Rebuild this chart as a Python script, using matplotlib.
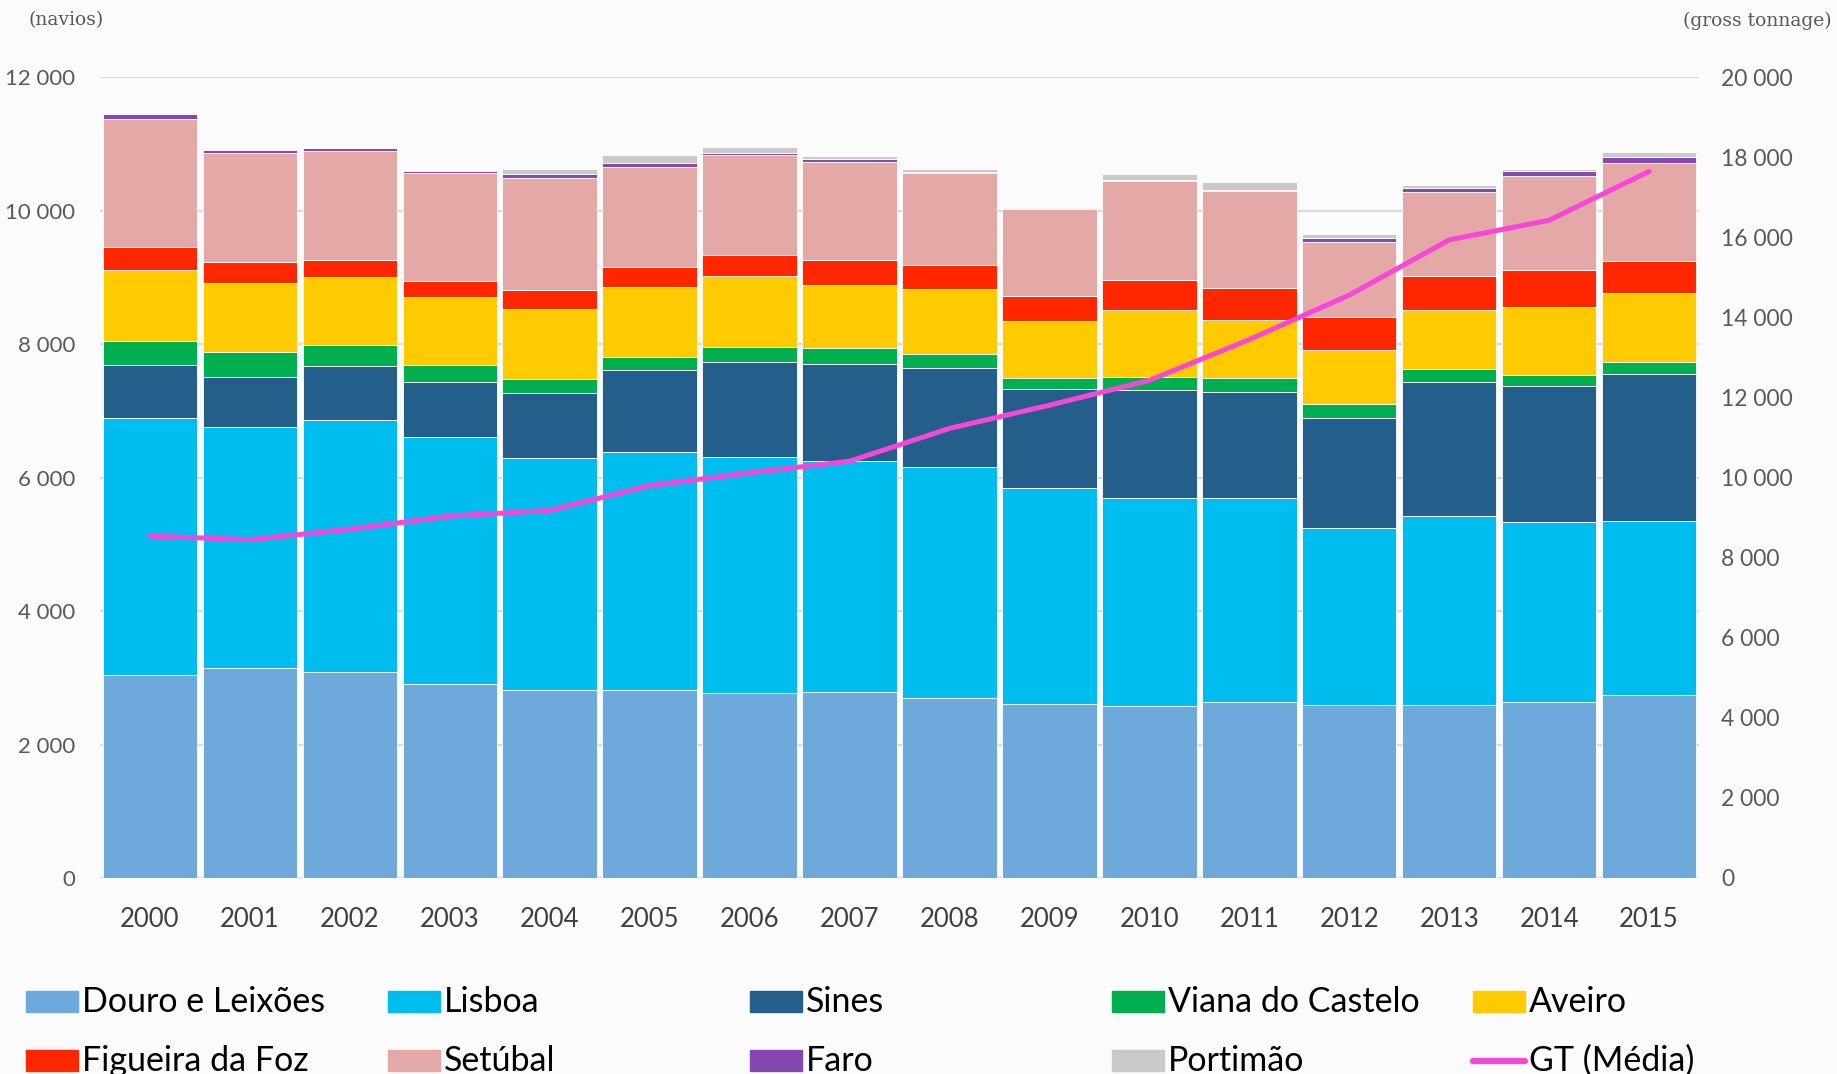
import numpy as np
import matplotlib
matplotlib.use('Agg')
import matplotlib.pyplot as plt
from matplotlib.patches import Rectangle
from matplotlib.lines import Line2D
from matplotlib.ticker import FuncFormatter

# Years and ports (navios per year)
years = ['2000', '2001', '2002', '2003', '2004', '2005', '2006', '2007',
         '2008', '2009', '2010', '2011', '2012', '2013', '2014', '2015']

douro = [3035, 3140, 3088, 2912, 2825, 2825, 2772, 2789, 2702, 2614, 2579, 2632, 2596, 2596, 2632, 2737]
lisboa = [3860, 3614, 3772, 3702, 3473, 3561, 3544, 3457, 3456, 3228, 3123, 3070, 2650, 2825, 2701, 2614]
sines = [789, 755, 807, 825, 965, 1228, 1421, 1456, 1491, 1491, 1614, 1579, 1649, 2018, 2035, 2210]
viana = [369, 368, 315, 245, 211, 193, 228, 245, 211, 158, 193, 210, 210, 193, 176, 176]
aveiro = [1052, 1035, 1018, 1018, 1052, 1053, 1053, 948, 965, 860, 1000, 877, 807, 877, 1017, 1035]
figueira = [351, 316, 263, 245, 281, 298, 315, 368, 368, 368, 456, 474, 492, 509, 544, 480]
setubal = [1912, 1632, 1632, 1614, 1684, 1505, 1500, 1475, 1380, 1315, 1475, 1455, 1122, 1260, 1420, 1470]
faro = [75, 45, 45, 35, 60, 60, 40, 40, 15, 15, 25, 18, 65, 70, 75, 85]
portimao = [5, 15, 15, 15, 80, 110, 90, 50, 40, 10, 90, 115, 65, 40, 25, 70]

# average gross tonnage (right axis)
gt_media = [8540, 8450, 8710, 9040, 9180, 9800, 10120, 10410,
            11230, 11810, 12430, 13450, 14560, 15940, 16430, 17650]

series = [
    ('Douro e Leixões', douro, '#6daadb'),
    ('Lisboa', lisboa, '#00bdf0'),
    ('Sines', sines, '#245f8b'),
    ('Viana do Castelo', viana, '#00b050'),
    ('Aveiro', aveiro, '#ffca00'),
    ('Figueira da Foz', figueira, '#ff2600'),
    ('Setúbal', setubal, '#e4a8a7'),
    ('Faro', faro, '#8547b0'),
    ('Portimão', portimao, '#c9c9c9'),
]
gt_color = '#f846d9'

plt.rcParams['font.family'] = ['Lato', 'DejaVu Sans']

fig = plt.figure(figsize=(18.37, 10.74), dpi=100)
fig.patch.set_facecolor('#fbfbfb')
ax = fig.add_axes([0.0544, 0.1825, 0.8705, 0.7455])
ax.set_facecolor('none')

x = np.arange(len(years))
bottom = np.zeros(len(years))
for name, vals, col in series:
    ax.bar(x, vals, width=0.945, bottom=bottom, color=col, edgecolor='white',
           linewidth=0.6, zorder=2)
    bottom += np.array(vals)

ax.set_xlim(-0.5, len(years) - 0.5)
ax.set_ylim(0, 12000)
ax.set_yticks(np.arange(0, 12001, 2000))
ax.grid(axis='y', color='#dadada', linewidth=1.6, zorder=0)
ax.set_axisbelow(True)

fmt = FuncFormatter(lambda v, p: f'{int(v):,}'.replace(',', ' '))
ax.yaxis.set_major_formatter(fmt)
ax.set_xticks(x)
ax.set_xticklabels(years)
ax.tick_params(axis='x', length=0, pad=21, labelsize=18.5, labelcolor='#404040')
ax.tick_params(axis='y', length=0, pad=18, labelsize=16, labelcolor='#595959')
for s in ax.spines.values():
    s.set_visible(False)

ax2 = ax.twinx()
ax2.plot(x, gt_media, color=gt_color, linewidth=3.6, solid_capstyle='round', zorder=5)
ax2.set_ylim(0, 20000)
ax2.set_yticks(np.arange(0, 20001, 2000))
ax2.yaxis.set_major_formatter(fmt)
ax2.tick_params(axis='y', length=0, pad=16, labelsize=16.5, labelcolor='#595959')
for s in ax2.spines.values():
    s.set_visible(False)

# axis unit labels
fig.text(0.0155, 0.981, '(navios)', family='DejaVu Serif', fontsize=13.5,
         color='#595959', ha='left', va='center')
fig.text(0.997, 0.981, '(gross tonnage)', family='DejaVu Serif', fontsize=13.5,
         color='#595959', ha='right', va='center')

# legend, 5 columns x 2 rows
col_x = [0.0141, 0.2111, 0.4083, 0.6053, 0.8019]
row_y = [0.0675, 0.0125]
entries = [(name, col) for name, _, col in series] + [('GT (Média)', None)]
for i, (name, col) in enumerate(entries):
    cx = col_x[i % 5]
    cy = row_y[i // 5]
    if col is not None:
        fig.add_artist(Rectangle((cx, cy - 0.0098), 0.0283, 0.0196,
                                 transform=fig.transFigure, color=col))
    else:
        fig.add_artist(Line2D([cx, cx + 0.0283], [cy, cy], transform=fig.transFigure,
                              color=gt_color, linewidth=4.5, solid_capstyle='round'))
    fig.text(cx + 0.0305, cy, name, fontsize=24.5, color='black', ha='left', va='center')

fig.savefig('out.png', dpi=100, facecolor=fig.get_facecolor())
